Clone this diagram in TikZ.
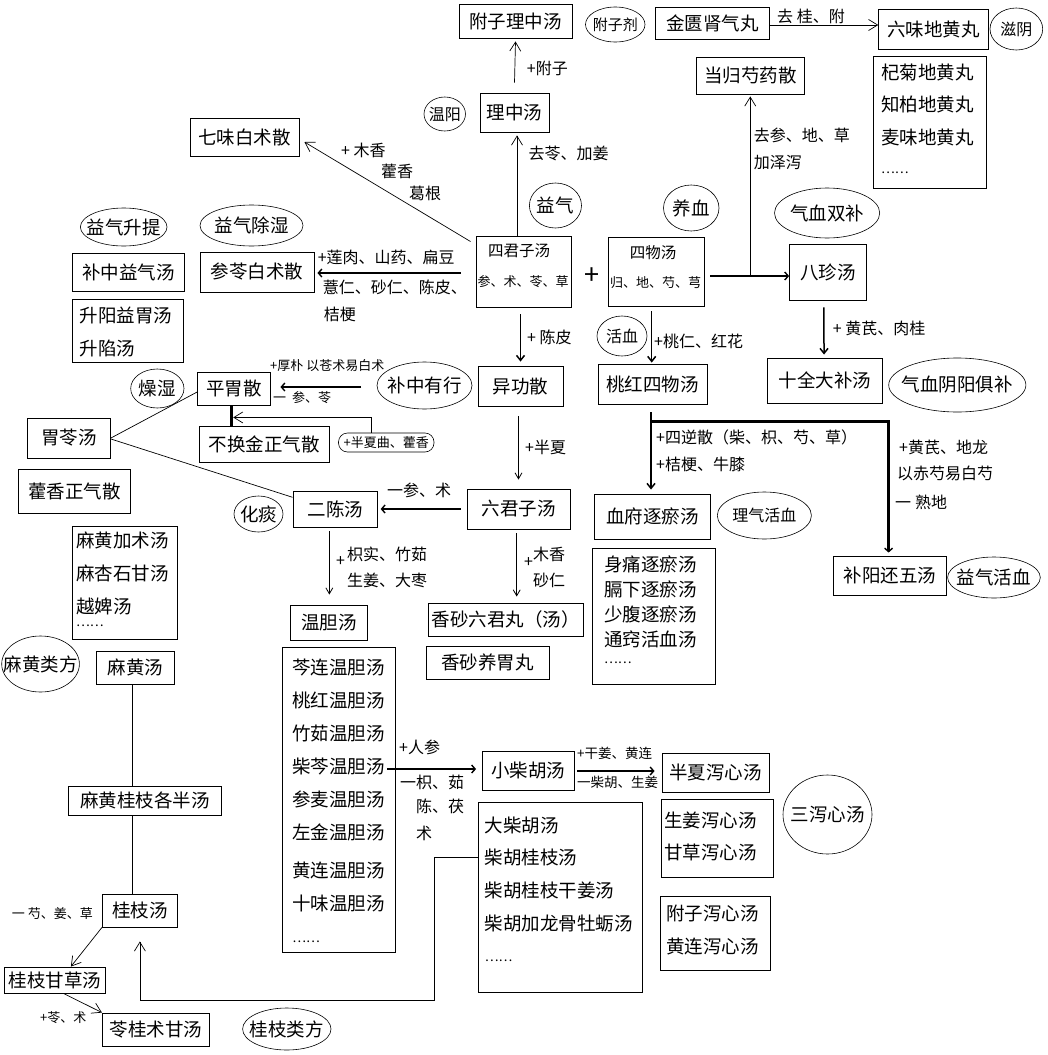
\documentclass[tikz,border=0pt]{standalone}
\usepackage{fontspec}
\setmainfont{Noto Sans CJK SC}
\usetikzlibrary{arrows.meta,shapes.geometric,calc}
\newcommand\fbig{\fontsize{18.5}{20}\selectfont}
\newcommand\fmid{\fontsize{16}{18}\selectfont}
\newcommand\fin{\fontsize{15.5}{17}\selectfont}
\newcommand\fsml{\fontsize{13}{15}\selectfont}
\newcommand\mybox[6]{\node[bx,minimum width={#4-#2},minimum height={#5-#3}] (#1) at ({(#2+#4)/2},{(#3+#5)/2}) {#6};}
\newcommand\myell[7]{\node[el,minimum width={#4-#2},minimum height={#5-#3}] (#1) at ({(#2+#4)/2},{(#3+#5)/2}) {};\node[txt,font=#6] (#1t) at (#1.center) {#7};}
\newcommand\myitem[4]{\node[itm] (#1) at (#2,#3) {#4};}
\newcommand\mydots[3]{\node[itm,font=\fsml] (#1) at (#2,#3) {……};}
\newcommand\mylab[4]{\node[lab] (#1) at (#2,#3) {#4};}
\newcommand\mylabs[4]{\node[labs] (#1) at (#2,#3) {#4};}
\tikzset{
 bx/.style={draw,line width=0.9pt,inner sep=0pt,font=\fbig},
 el/.style={draw,ellipse,line width=0.6pt,inner sep=0pt},
 txt/.style={inner sep=0pt},
 lab/.style={inner sep=0pt,anchor=west,font=\fmid},
 labs/.style={inner sep=0pt,anchor=west,font=\fsml},
 itm/.style={inner sep=0pt,anchor=west,font=\fbig},
 ln/.style={line width=0.7pt},
 tarr/.style={line width=0.7pt,-{Straight Barb[length=9pt,width=11pt]}},
 marr/.style={line width=1.5pt,-{Straight Barb[length=5pt,width=8pt]}},
 darr/.style={line width=0.8pt,-{Straight Barb[length=6pt,width=7pt]}},
 thkarr/.style={line width=2.4pt,-{Straight Barb[length=3.5pt,width=8pt,line width=1.4pt]}},
 thk/.style={line width=3pt},
}
\begin{document}
\begin{tikzpicture}[x=1pt,y=-1pt]
\fill[white] (0,0) rectangle (1047,1055);
\useasboundingbox (0,0) rectangle (1047,1055);

% ---------- boxes ----------
\mybox{fzlz}{459}{4}{572}{38}{附子理中汤}
\mybox{jgsq}{655.5}{7}{769.4}{39}{金匮肾气丸}
\mybox{lwdh}{878.7}{9}{988}{49}{六味地黄丸}
\mybox{dhl}{873.6}{56}{986.6}{188}{}
\mybox{dgsy}{696.5}{57}{804}{94}{当归芍药散}
\mybox{lz}{480}{93}{549}{132}{理中汤}
\mybox{qw}{190}{118}{299}{156}{七味白术散}
\mybox{sjz}{476}{236}{571}{307}{}
\mybox{sw}{608}{237}{704}{306}{}
\mybox{bz}{789.6}{244}{866}{300}{八珍汤}
\mybox{slbz}{200}{252}{314}{292}{参苓白术散}
\mybox{bzyqt}{72.6}{253}{184}{291}{补中益气汤}
\mybox{syl}{72.6}{299}{183}{362}{}
\mybox{sqdb}{767.7}{358}{882.4}{403}{十全大补汤}
\mybox{pws}{197.6}{372}{270}{405}{平胃散}
\mybox{ygs}{478}{366}{563}{406}{异功散}
\mybox{thsw}{598}{364}{707}{404}{桃红四物汤}
\mybox{bhj}{199}{426}{329}{462}{不换金正气散}
\mybox{wl}{27.7}{418}{110.5}{458}{胃苓汤}
\mybox{hxzq}{18.6}{469}{130.7}{513}{藿香正气散}
\mybox{ec}{293}{491}{377.7}{527}{二陈汤}
\mybox{ljz}{467}{489}{570}{529}{六君子汤}
\mybox{xfzy}{594.6}{494}{710}{539}{血府逐瘀汤}
\mybox{byhw}{833.6}{556}{946.2}{595}{补阳还五汤}
\mybox{mhl}{72.6}{526}{177}{639}{}
\mybox{xfl}{592.3}{548}{715.6}{684}{}
\mybox{wd}{290.7}{605}{367}{640}{温胆汤}
\mybox{xslj}{428}{603}{583}{636}{香砂六君丸（汤）}
\mybox{xsyw}{426}{646}{549}{679}{香砂养胃丸}
\mybox{wdl}{282}{647}{395.3}{952}{}
\mybox{mht}{96.3}{651}{174.7}{684}{麻黄汤}
\mybox{mhgz}{68.2}{786}{221.3}{815}{麻黄桂枝各半汤}
\mybox{gzt}{102.4}{894}{177.4}{927}{桂枝汤}
\mybox{gzgc}{4.4}{967}{105.4}{993}{桂枝甘草汤}
\mybox{lgzg}{102.4}{1013}{209.5}{1046}{苓桂术甘汤}
\mybox{xch}{482.5}{751}{574}{790}{小柴胡汤}
\mybox{bxxx}{662}{753}{769}{792}{半夏泻心汤}
\mybox{sjl}{661}{799}{773}{877}{}
\mybox{fzl}{660}{896}{770}{970}{}
\mybox{dchl}{478.5}{802}{642}{992}{}

\node[draw,rounded corners=9pt,line width=0.6pt,minimum width=95.5,minimum height=19,inner sep=0pt,font=\fsml] (bxq) at (386.25,442.5) {+半夏曲、藿香};

% two-line boxes
\node[txt,font=\fin] (sjz1) at (519,250.7) {四君子汤};
\node[txt,font=\fsml] (sjz2) at (523,281.7) {参、术、苓、草};
\node[txt,font=\fin] (sw1) at (653,253) {四物汤};
\node[txt,font=\fsml] (sw2) at (655.5,283) {归、地、芍、芎};
\node[txt,font=\fontsize{27}{27}\selectfont] (plus) at (592,276) {+};

% list items
\myitem{dh1}{881}{72}{杞菊地黄丸}
\myitem{dh2}{881}{104}{知柏地黄丸}
\myitem{dh3}{881}{137}{麦味地黄丸}
\mydots{dh4}{881}{173}
\myitem{sy1}{79.4}{315}{升阳益胃汤}
\myitem{sy2}{79.4}{348}{升陷汤}
\myitem{mh1}{76}{540}{麻黄加术汤}
\myitem{mh2}{76}{573}{麻杏石甘汤}
\myitem{mh3}{76}{606}{越婢汤}
\mydots{mh4}{76}{626}
\myitem{xf1}{604}{564}{身痛逐瘀汤}
\myitem{xf2}{604}{589}{膈下逐瘀汤}
\myitem{xf3}{604}{614}{少腹逐瘀汤}
\myitem{xf4}{604}{639}{通窍活血汤}
\mydots{xf5}{604}{663}
\myitem{wd1}{292.2}{667}{芩连温胆汤}
\myitem{wd2}{292.2}{700}{桃红温胆汤}
\myitem{wd3}{292.2}{733}{竹茹温胆汤}
\myitem{wd4}{292.2}{766}{柴芩温胆汤}
\myitem{wd5}{292.2}{799}{参麦温胆汤}
\myitem{wd6}{292.2}{832}{左金温胆汤}
\myitem{wd7}{292.2}{870}{黄连温胆汤}
\myitem{wd8}{292.2}{903}{十味温胆汤}
\mydots{wd9}{292.2}{942}
\myitem{dch1}{484.6}{825}{大柴胡汤}
\myitem{dch2}{484.6}{857}{柴胡桂枝汤}
\myitem{dch3}{484.6}{890}{柴胡桂枝干姜汤}
\myitem{dch4}{484.6}{923}{柴胡加龙骨牡蛎汤}
\mydots{dch5}{484.6}{961}
\myitem{sj1}{664}{820}{生姜泻心汤}
\myitem{sj2}{664}{852}{甘草泻心汤}
\myitem{fz1}{666}{913}{附子泻心汤}
\myitem{fz2}{666}{946}{黄连泻心汤}

% ---------- ellipses ----------
\myell{wy}{424}{97}{465.5}{131}{\fmid}{温阳}
\myell{fzj}{585.5}{7}{645}{42}{\fontsize{15}{17}\selectfont}{附子剂}
\myell{zy}{990}{8}{1042.7}{50}{\fmid}{滋阴}
\myell{yq}{529.4}{183}{581.5}{228}{\fbig}{益气}
\myell{yx}{663.5}{185}{719}{231}{\fbig}{养血}
\myell{qxsb}{774.5}{188}{879.7}{238}{\fbig}{气血双补}
\myell{yqst}{80.4}{208}{167}{246}{\fbig}{益气升提}
\myell{yqcs}{200}{205}{303}{246}{\fbig}{益气除湿}
\myell{hx}{597}{316}{647}{356}{\fmid}{活血}
\myell{qxyy}{888.7}{358}{1025.9}{412}{\fbig}{气血阴阳俱补}
\myell{zs}{130.7}{369}{184}{408}{\fbig}{燥湿}
\myell{bzyx}{377}{362}{472}{409}{\fbig}{补中有行}
\myell{ht}{234}{496}{283}{532}{\fbig}{化痰}
\myell{lqhx}{717.3}{492}{811.4}{539}{\fmid}{理气活血}
\myell{yqhx}{947.6}{557}{1040.3}{598}{\fbig}{益气活血}
\myell{mhlf}{1.7}{636}{79.4}{692}{\fbig}{麻黄类方}
\myell{gzlf}{242.6}{1008}{331}{1050}{\fbig}{桂枝类方}
\myell{sxxt}{783}{775}{872}{854}{\fbig}{三泻心汤}

% ---------- labels ----------
\mylab{l1}{526.7}{68}{+附子}
\mylab{l2}{528.4}{153}{去苓、加姜}
\mylab{l3a}{341}{150}{+ 木香}
\mylab{l3b}{381}{171}{藿香}
\mylab{l3c}{409}{193}{葛根}
\mylab{l4}{777}{16}{去 桂、附}
\mylab{l5a}{753.6}{135}{去参、地、草}
\mylab{l5b}{753.6}{163}{加泽泻}
\mylab{l6a}{317.6}{257}{+莲肉、山药、扁豆}
\mylab{l6b}{322.6}{287}{薏仁、砂仁、陈皮、}
\mylab{l6c}{323.6}{314}{桔梗}
\mylab{l7}{527}{337}{+ 陈皮}
\mylab{l8}{654}{341}{+桃仁、红花}
\mylab{l9}{832.6}{328}{+ 黄芪、肉桂}
\mylabs{l10a}{270}{366}{+厚朴 以苍术易白术}
\mylabs{l10b}{273}{398}{一\hspace{6pt}参、苓}
\mylab{l11}{525}{447}{+半夏}
\mylab{l12}{387}{490}{一参、术}
\mylab{l13a}{656}{437}{+四逆散（柴、枳、芍、草）}
\mylab{l13b}{656}{464}{+桔梗、牛膝}
\mylab{l14a}{899}{447}{+黄芪、地龙}
\mylab{l14b}{897}{473}{以赤芍易白芍}
\mylab{l14c}{894.8}{502}{一\hspace{4pt}熟地}
\mylab{l15p}{336}{562}{+}
\mylab{l15a}{347}{554}{枳实、竹茹}
\mylab{l15b}{347}{580}{生姜、大枣}
\mylab{l16p}{524}{563}{+}
\mylab{l16a}{533}{554}{木香}
\mylab{l16b}{533}{580}{砂仁}
\mylab{l17a}{399}{747}{+人参}
\mylab{l17b}{400}{782}{一枳、茹}
\mylab{l17c}{416}{806}{陈、茯}
\mylab{l17d}{416}{833}{术}
\node[labs,font=\fontsize{13.5}{15}\selectfont] (l18a) at (577,753) {+干姜、黄连};
\node[labs,font=\fontsize{13.5}{15}\selectfont] (l18b) at (577,782) {一柴胡、生姜};
\mylabs{l19}{11.8}{914}{一 芍、姜、草}
\mylabs{l20}{40}{1018}{+苓、术}

% ---------- connectors ----------
\draw[tarr] ([yshift=10pt]lz.north) -- ([yshift=-3pt]fzlz.south);
\draw[tarr] ([xshift=-6.5pt]sjz.north) -- ([xshift=2.5pt,yshift=-3pt]lz.south);
\draw[tarr] ([xshift=-5pt,yshift=-6pt]sjz.north west) -- ([xshift=5pt,yshift=-5pt]qw.east);
\draw[thkarr] ([xshift=-15pt,yshift=-1.5pt]sjz.west) -- ([xshift=3pt,yshift=-1pt]slbz.east);
\draw[tarr] ([yshift=-2pt]jgsq.east) -- ([yshift=4pt]lwdh.west);
\coordinate (swo) at ($(sw.east)+(6,4.5)$);
\draw[thkarr] (swo) -- (swo -| bz.west);
\draw[tarr] (swo -| dgsy.south) -- ([yshift=-2pt]dgsy.south);
\draw[marr] ([xshift=-4pt,yshift=-7pt]bz.south) -- ([xshift=-1pt,yshift=3pt]sqdb.north);
\draw[marr] ([xshift=-3pt,yshift=-7pt]sjz.south) -- ([yshift=4pt]ygs.north);
\draw[marr] ([xshift=-4.3pt,yshift=-5pt]sw.south) -- ([xshift=-0.8pt,yshift=1pt]thsw.north);
\coordinate (a10) at ($(bzyx.west)+(-15.5,1.5)$);
\draw[thkarr] (a10) -- ($(a10 -| pws.east)+(10,0)$);
\coordinate (p11) at ($(pws.south)+(-2.6,0)$);
\draw[thk] (p11) -- (p11 |- bhj.north);
\coordinate (p12) at ($(bxq.north)+(-15.4,0)$);
\draw[tarr] (p12) |- ($(p11)+(2,12)$);
\draw[ln] (wl.east) -- ([yshift=-3.5pt]pws.west);
\draw[ln] ([yshift=-1pt]wl.east) -- ([yshift=11.7pt]ec.west);
\draw[thkarr] ([xshift=-6pt]ljz.west) -- ([xshift=2.5pt]ec.east);
\draw[darr] ([xshift=-2pt,yshift=-10pt]ygs.south) -- ([yshift=9pt]ljz.north);
\draw[darr] ([xshift=-6pt,yshift=-4pt]ec.south) -- ([xshift=0.5pt,yshift=10pt]wd.north);
\draw[darr] ([xshift=-1.8pt,yshift=-4pt]ljz.south) -- ([xshift=11.2pt,yshift=6pt]xslj.north);
\draw[marr] ([xshift=-1.5pt,yshift=-8pt]thsw.south) -- ([xshift=-1.3pt,yshift=4pt]xfzy.north);
\coordinate (p20) at ($(thsw.south)+(-1.5,17)$);
\draw[thkarr] (p20) -| ([xshift=-1.3pt,yshift=3pt]byhw.north);
\coordinate (p21) at ($(wd4.east)+(2,3)$);
\draw[thkarr,shorten >=6pt] (p21) -- (p21 -| xch.west);
\coordinate (p22) at ($(xch.east)+(3,0.5)$);
\draw[thkarr,shorten >=7pt] (p22) -- (p22 -| bxxx.west);
\coordinate (c23) at (434,1000);
\draw[tarr] (dchl.west |- dch2) -| (c23) -| ([yshift=-14pt]gzt.south);
\coordinate (p24) at ($(mht.south)+(-3.1,0)$);
\draw[ln] (p24) -- (p24 |- mhgz.north);
\coordinate (p25) at ($(mhgz.south)+(-12,0)$);
\draw[ln] (p25) -- (p25 |- gzt.north);
\draw[tarr] (gzt.south west) -- ([xshift=16pt]gzgc.north);
\draw[tarr] ([xshift=8.6pt]gzgc.south) -- (lgzg.north west);
\end{tikzpicture}
\end{document}
